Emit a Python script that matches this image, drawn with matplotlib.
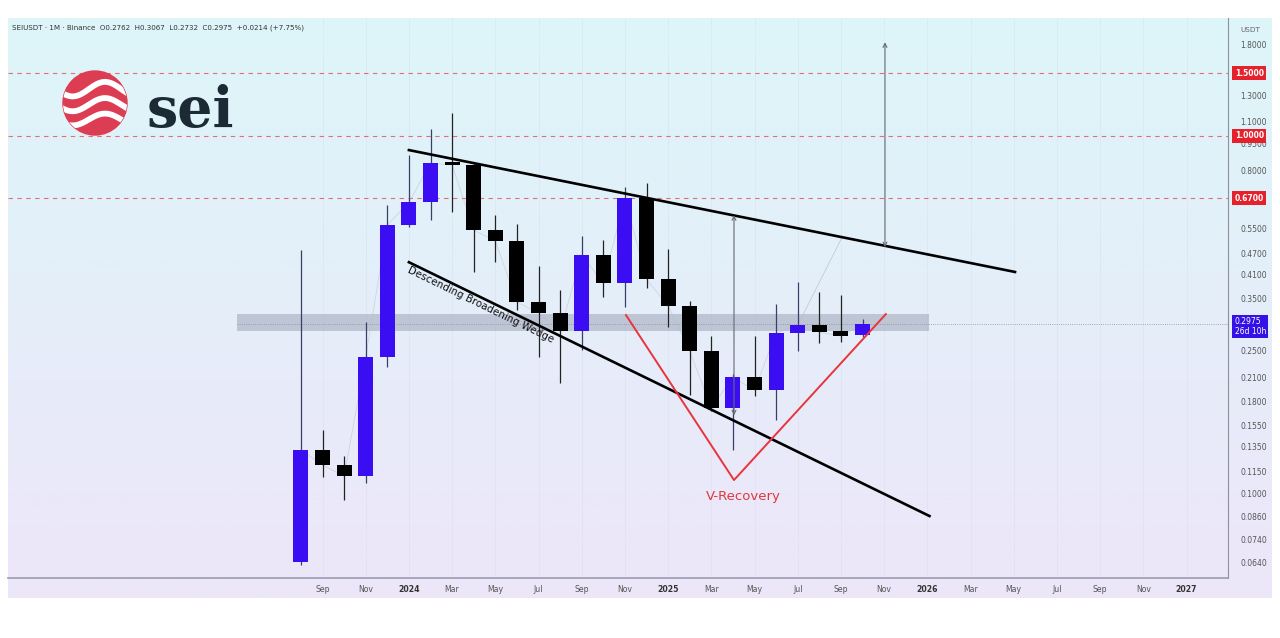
import numpy as np
import matplotlib.pyplot as plt
import matplotlib.transforms as mtransforms
from matplotlib.patches import Circle
from matplotlib.ticker import NullLocator

# Monthly SEIUSDT candles, Aug 2023 .. Oct 2025 (month index 0 = Aug 2023)
month_idx = list(range(27))
opens = [0.064, 0.132, 0.1197, 0.1115, 0.240, 0.563, 0.652, 0.839, 0.830, 0.545,
         0.508, 0.343, 0.319, 0.284, 0.464, 0.387, 0.670, 0.397, 0.334, 0.250,
         0.173, 0.211, 0.194, 0.281, 0.295, 0.284, 0.2762]
highs = [0.479, 0.150, 0.127, 0.301, 0.640, 0.884, 1.045, 1.160, 0.840, 0.600,
         0.566, 0.432, 0.370, 0.524, 0.511, 0.719, 0.738, 0.482, 0.345, 0.275,
         0.215, 0.275, 0.338, 0.390, 0.365, 0.358, 0.3067]
lows = [0.063, 0.111, 0.0956, 0.1067, 0.225, 0.556, 0.581, 0.612, 0.416, 0.443,
        0.325, 0.240, 0.203, 0.251, 0.354, 0.332, 0.375, 0.291, 0.188, 0.170,
        0.132, 0.187, 0.160, 0.250, 0.263, 0.265, 0.2732]
closes = [0.132, 0.1197, 0.1115, 0.240, 0.563, 0.652, 0.839, 0.830, 0.545, 0.508,
          0.343, 0.319, 0.284, 0.464, 0.387, 0.670, 0.397, 0.334, 0.250, 0.173,
          0.211, 0.194, 0.281, 0.295, 0.282, 0.275, 0.2975]

# axis ticks
ytick_vals = [1.8, 1.3, 1.1, 0.95, 0.8, 0.55, 0.47, 0.41, 0.35, 0.25, 0.21, 0.18,
              0.155, 0.135, 0.115, 0.10, 0.086, 0.074, 0.064]
xtick_idx = [1, 3, 5, 7, 9, 11, 13, 15, 17, 19, 21, 23, 25, 27, 29, 31, 33, 35, 37, 39, 41]
xtick_lbl = ['Sep', 'Nov', '2024', 'Mar', 'May', 'Jul', 'Sep', 'Nov', '2025', 'Mar', 'May',
             'Jul', 'Sep', 'Nov', '2026', 'Mar', 'May', 'Jul', 'Sep', 'Nov', '2027']

# drawings (month index, price)
upper_wedge = ([5.0, 33.06], [0.913, 0.416])
lower_wedge = ([5.0, 29.1], [0.443, 0.0862])
v_recovery = ([15.05, 20.05, 27.08], [0.315, 0.1087, 0.317])
levels = [1.5, 1.0, 0.67]
zone = (-2.96, 29.07, 0.284, 0.317)
last_price = 0.2975

W, H = 1280, 638
fig = plt.figure(figsize=(W / 100, H / 100), dpi=100)
fig.patch.set_facecolor('white')

def px_box(x0, y0, x1, y1):
    return [x0 / W, (H - y1) / H, (x1 - x0) / W, (y1 - y0) / H]

# gradient background for the whole chart panel
bg = fig.add_axes(px_box(8, 18, 1272, 598))
top_c = np.array([0xdd, 0xf6, 0xf9]) / 255
bot_c = np.array([0xed, 0xe6, 0xf9]) / 255
t = np.linspace(0, 1, 256)[:, None]
grad = top_c[None, :] * (1 - t) + bot_c[None, :] * t
bg.imshow(grad[:, None, :].repeat(2, axis=1), aspect='auto', extent=(0, 1, 0, 1))
bg.axis('off')

ax = fig.add_axes(px_box(8, 18, 1228, 578))
ax.set_facecolor('none')
ax.set_yscale('log')
ax.set_xlim(-13.56, 42.92)
ax.set_ylim(0.0578, 2.14)

# faint month grid
for xi in xtick_idx:
    ax.axvline(xi, color='#c9ccd8', lw=0.5, alpha=0.3, zorder=0)

# horizontal key levels
for lv in levels:
    ax.axhline(lv, color='#e27070', lw=0.8, ls=(0, (4, 4)), zorder=1)

# support zone + current price line
ax.fill_between([zone[0], zone[1]], zone[2], zone[3], color='#aab0c2', alpha=0.65,
                lw=0, zorder=1)
ax.hlines(last_price, zone[0], 42.92, colors='#8a8fa0', lw=0.6, ls=':', zorder=1)

# faint close path
ax.plot(month_idx, closes, color='#b8bcc6', lw=0.6, alpha=0.5, zorder=1)
ax.plot([23, 25.05], [0.295, 0.52], color='#b8bcc6', lw=0.6, alpha=0.7, zorder=1)

# candles
up = [c >= o for o, c in zip(opens, closes)]
colors = ['#3a0df2' if u else '#000000' for u in up]
bottoms = [min(o, c) for o, c in zip(opens, closes)]
tops = [max(o, c) for o, c in zip(opens, closes)]
heights = [max(tp - b, b * 0.02) for tp, b in zip(tops, bottoms)]
ax.vlines(month_idx, lows, highs, colors=['#3a3f6a' if u else '#222' for u in up],
          lw=0.9, zorder=3)
ax.bar(month_idx, heights, bottom=bottoms, width=0.7, color=colors, zorder=4)

# wedge + V
ax.plot(*upper_wedge, color='black', lw=1.9, zorder=5)
ax.plot(*lower_wedge, color='black', lw=1.9, zorder=5)
ax.plot(*v_recovery, color='#e8343c', lw=1.4, zorder=5)

# measure arrows
for xa, ya0, ya1 in [(20.05, 0.165, 0.600), (27.04, 0.488, 1.83)]:
    ax.annotate('', xy=(xa, ya1), xytext=(xa, ya0),
                arrowprops=dict(arrowstyle='<->', color='#666a72', lw=0.8,
                                mutation_scale=7, shrinkA=0, shrinkB=0), zorder=5)

ax.text(5.05, 0.436, 'Descending Broadening Wedge', rotation=-26, rotation_mode='anchor',
        ha='left', va='top', fontsize=7.4, color='#111', zorder=6)
ax.text(20.46, 0.098, 'V-Recovery', ha='center', va='center', fontsize=9.5,
        color='#e0383e', zorder=6)

# axes styling
for s in ['top', 'left']:
    ax.spines[s].set_visible(False)
ax.spines['right'].set_color('#8d919c')
ax.spines['bottom'].set_color('#9a9cb0')
ax.spines['bottom'].set_linewidth(1.2)
ax.yaxis.tick_right()
ax.set_yticks(ytick_vals)
ax.set_yticklabels([f'{v:.4f}' for v in ytick_vals])
ax.yaxis.set_minor_locator(NullLocator())
ax.tick_params(axis='y', length=0, labelsize=5.5, labelcolor='#555', pad=9)
ax.set_xticks(xtick_idx)
ax.set_xticklabels(xtick_lbl)
ax.tick_params(axis='x', length=0, labelsize=5.6, labelcolor='#555', pad=5)
for lbl in ax.get_xticklabels():
    if lbl.get_text().isdigit():
        lbl.set_fontweight('bold')
        lbl.set_color('#333')

trans = mtransforms.blended_transform_factory(ax.transAxes, ax.transData)
for lv in levels:
    ax.text(1.0055, lv, f'{lv:.4f}', transform=trans, ha='left', va='center',
            fontsize=5.5, color='white', fontweight='bold', zorder=10,
            bbox=dict(boxstyle='square,pad=0.3', fc='#e5222b', ec='none'))
ax.text(1.0055, last_price * 0.985, f'{last_price:.4f}\n26d 10h', transform=trans,
        ha='left', va='center', fontsize=5.5, color='white', linespacing=1.1, zorder=10,
        bbox=dict(boxstyle='square,pad=0.3', fc='#3411e6', ec='none'))

fig.text(1240 / W, (H - 30) / H, 'USDT', fontsize=5.2, color='#666', va='center')
fig.text(12 / W, (H - 28) / H,
         'SEIUSDT · 1M · Binance  O0.2762  H0.3067  L0.2732  C0.2975  +0.0214 (+7.75%)',
         fontsize=5.1, color='#333', va='center')

# sei logo
lg = fig.add_axes(px_box(62, 70, 128, 136))
lg.set_xlim(-1, 1)
lg.set_ylim(-1, 1)
lg.set_aspect('equal')
lg.axis('off')
disc = Circle((0, 0), 0.97, color='#dc3d52')
lg.add_patch(disc)
xs = np.linspace(-1, 1, 200)
for y0, amp in [(0.42, 0.22), (-0.05, 0.2), (-0.5, 0.18)]:
    wl, = lg.plot(xs, y0 + amp * np.sin(xs * 3.2 + 0.6), color='white', lw=4.2,
                  solid_capstyle='butt')
    wl.set_clip_path(disc)
fig.text(147 / W, (H - 127) / H, 'sei', fontsize=40, fontweight='bold',
         family='DejaVu Serif', color='#1b2a35', va='baseline')

fig.savefig('out.png', dpi=100, facecolor='white')
